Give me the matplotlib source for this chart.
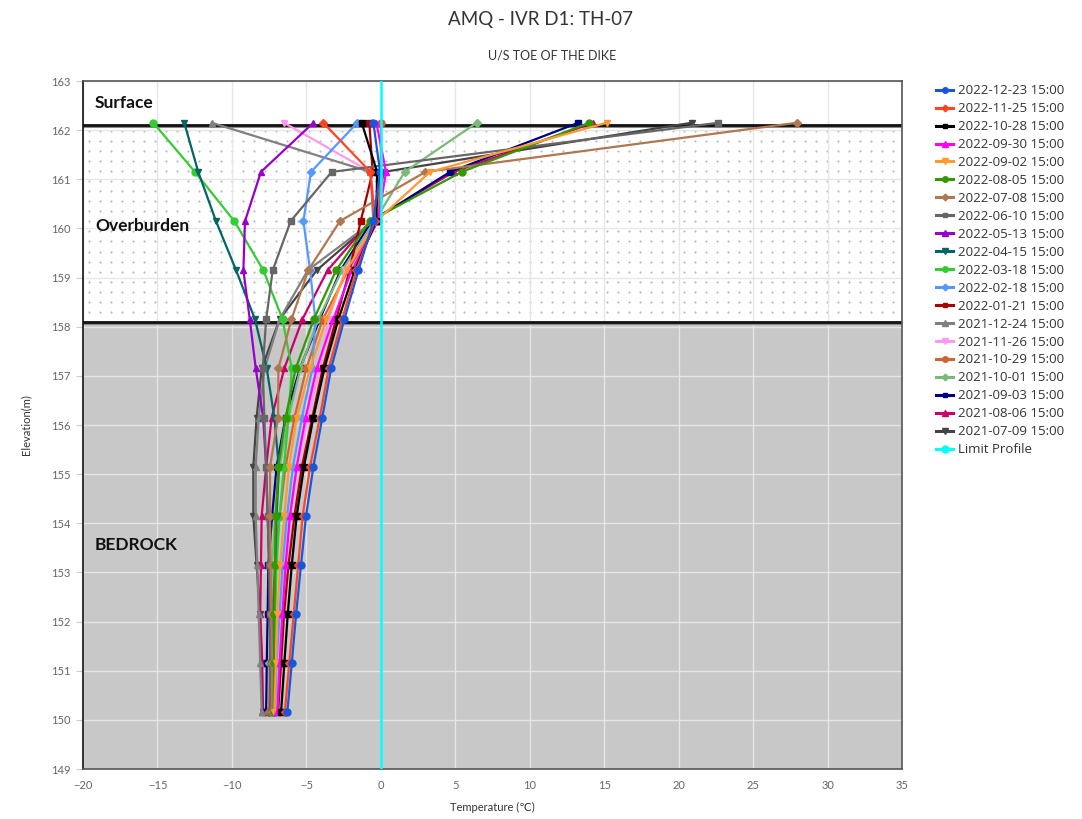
import matplotlib
matplotlib.use("Agg")
import matplotlib.pyplot as plt
import numpy as np

plt.rcParams["font.family"] = ["Lato", "DejaVu Sans"]

# elevations of the thermistor beads (m)
elevations = [162.15, 161.15, 160.15, 159.15, 158.15, 157.15, 156.15,
              155.15, 154.15, 153.15, 152.15, 151.15, 150.15]

dates = [
    "2022-12-23 15:00", "2022-11-25 15:00", "2022-10-28 15:00", "2022-09-30 15:00",
    "2022-09-02 15:00", "2022-08-05 15:00", "2022-07-08 15:00", "2022-06-10 15:00",
    "2022-05-13 15:00", "2022-04-15 15:00", "2022-03-18 15:00", "2022-02-18 15:00",
    "2022-01-21 15:00", "2021-12-24 15:00", "2021-11-26 15:00", "2021-10-29 15:00",
    "2021-10-01 15:00", "2021-09-03 15:00", "2021-08-06 15:00", "2021-07-09 15:00",
]

t_20221223 = [-0.5, -0.05, -0.5, -1.5, -2.45, -3.34, -3.93, -4.53, -5.02, -5.36, -5.69, -5.98, -6.28]
t_20221125 = [-3.86, -0.7, -0.4, -1.65, -2.6, -3.5, -4.1, -4.75, -5.25, -5.55, -5.85, -6.15, -6.45]
t_20221028 = [-1.28, -0.25, -0.3, -1.75, -2.85, -3.79, -4.53, -5.16, -5.65, -5.98, -6.25, -6.48, -6.7]
t_20220930 = [-0.3, 0.35, -0.2, -1.95, -3.2, -4.31, -5.05, -5.65, -6.1, -6.39, -6.61, -6.8, -6.95]
t_20220902 = [15.17, 3.3, -0.3, -2.3, -3.65, -4.75, -5.65, -6.17, -6.48, -6.77, -6.95, -7.05, -7.15]
t_20220805 = [14.0, 5.43, -0.75, -3.0, -4.5, -5.72, -6.39, -6.88, -7.06, -7.1, -7.15, -7.15, -7.2]
t_20220708 = [27.93, 3.0, -2.74, -4.87, -6.0, -6.88, -6.9, -7.44, -7.44, -7.4, -7.35, -7.3, -7.3]
t_20220610 = [22.67, -3.3, -6.05, -7.26, -7.7, -7.93, -7.82, -7.7, -7.6, -7.5, -7.45, -7.4, -7.4]
t_20220513 = [-4.53, -8.05, -9.12, -9.23, -8.8, -8.4, -7.9, -7.7, -7.6, -7.5, -7.45, -7.4, -7.4]
t_20220415 = [-13.2, -12.26, -11.07, -9.72, -8.45, -7.66, -7.15, -6.85, -7.0, -7.1, -7.2, -7.25, -7.3]
t_20220318 = [-15.28, -12.48, -9.84, -7.89, -6.6, -5.98, -6.2, -6.5, -6.8, -7.0, -7.1, -7.2, -7.25]
t_20220218 = [-1.58, -4.69, -5.2, -4.75, -4.4, -4.6, -5.3, -5.9, -6.3, -6.6, -6.8, -7.0, -7.1]
t_20220121 = [-0.77, -0.55, -1.35, -2.1, -3.0, -3.9, -4.6, -5.3, -5.8, -6.2, -6.5, -6.7, -6.9]
t_20211224 = [-11.36, -0.7, -0.5, -4.9, -6.8, -7.8, -8.2, -8.4, -8.4, -8.3, -8.2, -8.1, -8.0]
t_20211126 = [-6.5, -0.7, -0.3, -2.4, -3.5, -4.1, -4.9, -5.6, -6.1, -6.5, -6.8, -7.0, -7.2]
t_20211029 = [0.0, 0.0, -0.2, -2.2, -3.9, -5.0, -5.8, -6.4, -6.8, -7.1, -7.3, -7.4, -7.5]
t_20211001 = [6.44, 1.6, -0.4, -2.6, -4.2, -5.4, -6.2, -6.8, -7.1, -7.3, -7.4, -7.5, -7.5]
t_20210903 = [13.27, 4.65, -0.6, -2.7, -4.1, -5.43, -6.4, -7.0, -7.3, -7.55, -7.6, -7.66, -7.7]
t_20210806 = [14.27, 4.9, -0.7, -3.57, -5.27, -6.48, -7.33, -7.7, -8.0, -8.05, -8.1, -7.96, -7.96]
t_20210709 = [20.88, 0.2, -0.5, -4.3, -6.8, -8.0, -8.34, -8.56, -8.56, -8.34, -8.11, -8.0, -7.9]

series = [t_20221223, t_20221125, t_20221028, t_20220930, t_20220902, t_20220805,
          t_20220708, t_20220610, t_20220513, t_20220415, t_20220318, t_20220218,
          t_20220121, t_20211224, t_20211126, t_20211029, t_20211001, t_20210903,
          t_20210806, t_20210709]

colors = ["#1a56db", "#ff4422", "#000000", "#ff00ff", "#ff9933", "#339900",
          "#b07850", "#666666", "#9900cc", "#006666", "#33cc33", "#5599ff",
          "#aa0000", "#808080", "#ff99ee", "#cc6633", "#77bb77", "#000080",
          "#cc0066", "#444444"]
markers = ["o", "D", "s", "^", "v"]

surface_elev = 162.1
bedrock_elev = 158.1

fig = plt.figure(figsize=(10.82, 8.19), dpi=100)
ax = fig.add_axes([83 / 1082, 1 - 769 / 819, 819 / 1082, 688 / 819])

ax.set_xlim(-20, 35)
ax.set_ylim(149, 163)

# zones
ax.axhspan(149, bedrock_elev, color="#c8c8c8", zorder=0.2, lw=0)
dx, dy = np.meshgrid(np.arange(-19.6, 35, 0.74), np.arange(158.3, 162.0, 0.205))
ax.scatter(dx.ravel(), dy.ravel(), s=2.2, color="#b5b5b5", lw=0, zorder=0.3)
for yb in (surface_elev, bedrock_elev):
    ax.axhline(yb - 0.04, color="#888888", lw=1.5, zorder=0.6)
    ax.axhline(yb, color="#111111", lw=2.0, zorder=0.7)

ax.set_axisbelow(True)
ax.grid(True, color="#e6e6e6", lw=1)
ax.set_xticks(np.arange(-20, 36, 5))
ax.set_yticks(np.arange(149, 164, 1))

for i in reversed(range(len(series))):
    ax.plot(series[i], elevations, color=colors[i], marker=markers[i % 5],
            ms=5 if markers[i % 5] in "o^v" else 4.2, lw=1.6,
            label=dates[i], zorder=3 + (len(series) - i) * 0.01)

ax.plot([0, 0], [149, 163], color="#00ffff", lw=1.8, marker="o", ms=0,
        label="Limit Profile", zorder=4)

ax.text(-19.2, 162.55, "Surface", fontsize=12.5, fontweight="bold", color="#111", va="center")
ax.text(-19.2, 160.05, "Overburden", fontsize=12.5, fontweight="bold", color="#111", va="center")
ax.text(-19.2, 153.55, "BEDROCK", fontsize=12.5, fontweight="bold", color="#111", va="center")

for s in ax.spines.values():
    s.set_color("#555555")
    s.set_linewidth(1.2)
ax.spines["left"].set_color("#111111")
ax.tick_params(axis="both", labelsize=8, labelcolor="#666666", color="#cccccc")
ax.tick_params(axis="x", length=0, pad=8)
ax.tick_params(axis="y", length=5, pad=4)

ax.set_xlabel("Temperature (℃)", fontsize=8, color="#333333", labelpad=8)
ax.set_ylabel("Elevation(m)", fontsize=8, color="#333333", labelpad=14)

fig.text(0.5, 1 - 20 / 819, "AMQ - IVR D1: TH-07", ha="center", va="center",
         fontsize=13.5, color="#333333")
fig.text(0.51, 1 - 55 / 819, "U/S TOE OF THE DIKE", ha="center", va="center",
         fontsize=9, color="#333333")

handles, labels = ax.get_legend_handles_labels()
order = list(range(len(series) - 1, -1, -1)) + [len(series)]
leg = fig.legend([handles[k] for k in order], [labels[k] for k in order],
                 loc="upper left", bbox_to_anchor=(931 / 1082, 1 - 79 / 819),
                 frameon=False, fontsize=9.5, labelspacing=0.375,
                 handlelength=1.25, handletextpad=0.4, borderaxespad=0,
                 markerscale=0.8)
for t in leg.get_texts():
    t.set_color("#333333")
    t.set_fontfamily(["Open Sans", "DejaVu Sans"])
for h in leg.legend_handles:
    h.set_linewidth(2.2)
leg.legend_handles[-1].set_marker("o")
leg.legend_handles[-1].set_markersize(5)

fig.savefig("out.png", dpi=100)
